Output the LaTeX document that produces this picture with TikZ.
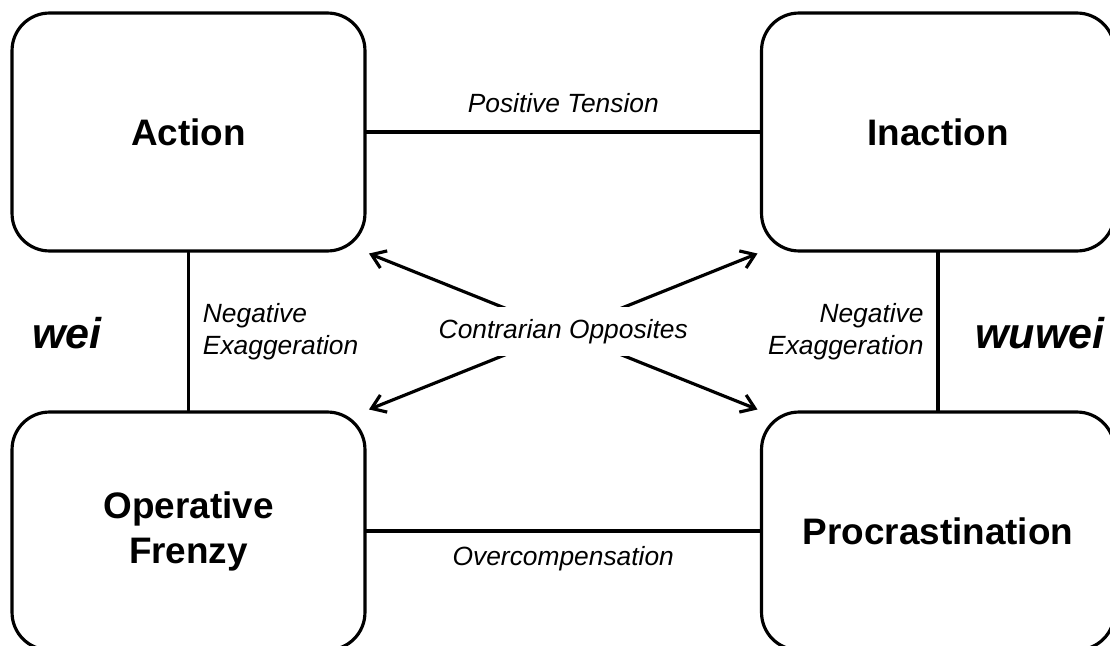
\documentclass[tikz,border=0pt]{standalone}
\usepackage{fontspec}
\setmainfont{Liberation Sans}
\usetikzlibrary{arrows.meta,calc}
\begin{document}
\begin{tikzpicture}[x=0.02cm, y=-0.02cm, line join = round, line cap = round, line width=1.8pt, >={Straight Barb[length=7.5pt,width=10.5pt]},
	box/.style={draw, rounded corners=0.75cm, minimum width=7.06cm, minimum height=4.76cm, align=center, font=\bfseries\fontsize{21}{25.6}\selectfont},
	lbl/.style={font=\itshape\fontsize{15}{18.2}\selectfont},
	way/.style={font=\bfseries\itshape\fontsize{24.5}{29}\selectfont}]
	%\tikzset{lbl/.style={font=\itshape}}
	\useasboundingbox (0,0) rectangle (1110,646);
	\node[box] (act) at (188.5,132) {Action};
	\node[box] (inact) at (938,132) {Inaction};
	\node[box] (frenzy) at (188.5,531) {Operative\\Frenzy};
	\node[box] (procr) at (938,531) {Procrastination};
	\draw (act.east) -- node[lbl, midway, above=7pt]{Positive Tension} (inact.west);
	\draw (frenzy.east) -- node[lbl, midway, below=4.5pt]{Overcompensation} (procr.west);
	\draw (act.south) -- node[lbl, midway, right=4pt, align=left]{Negative\\Exaggeration} (frenzy.north);
	\draw (inact.south) -- node[lbl, midway, left=4pt, align=right]{Negative\\Exaggeration} (procr.north);
	\draw[<->, shorten <=1.5pt, shorten >=1.5pt] (act.south east) -- (procr.north west);
	\draw[<->, shorten <=1.5pt, shorten >=1.5pt] (inact.south west) -- (frenzy.north east);
	\node[lbl, fill=white, inner ysep=7pt] (opp) at ($(act.south east)!0.5!(procr.north west)$) {Contrarian Opposites};
	\node[way] (wei) at (67,333) {wei};
	\node[way] (wuwei) at (1040,333) {wuwei};
\end{tikzpicture}
\end{document}
